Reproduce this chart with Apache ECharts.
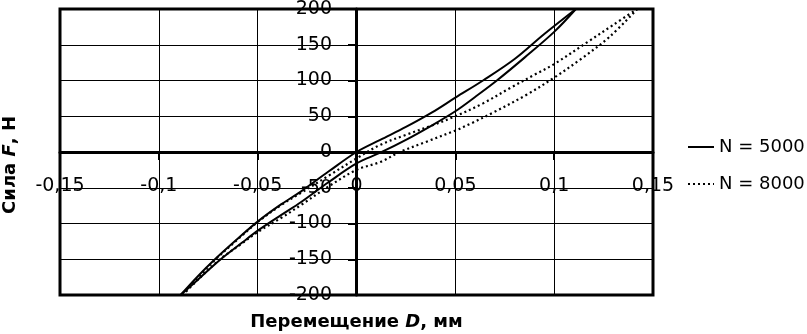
<!DOCTYPE html>
<html>
<head>
<meta charset="utf-8">
<script src="https://cdn.jsdelivr.net/npm/echarts@6/dist/echarts.min.js"></script>
<style>
html,body{margin:0;padding:0;background:#fff;}
#c{width:807px;height:334px;}
</style>
</head>
<body>
<div id="c"></div>
<script>
// N = 5000, upper branch
const n5000UpperD = [-0.089, -0.080, -0.072, -0.060, -0.0494, -0.038, -0.028, -0.014, 0, 0.012, 0.025, 0.038, 0.05, 0.064, 0.08, 0.095, 0.111];
const n5000UpperF = [-200, -173, -151, -121, -96, -73, -55, -27, 0, 17, 35, 55, 76, 100, 130, 165, 200];
// N = 5000, lower branch
const n5000LowerD = [-0.089, -0.080, -0.0687, -0.058, -0.0494, -0.038, -0.028, -0.014, 0, 0.012, 0.025, 0.038, 0.05, 0.06, 0.071, 0.085, 0.1, 0.111];
const n5000LowerF = [-200, -178, -150, -127, -109, -88, -70, -42, -16, -1, 17, 37, 57, 77, 100, 132, 168, 200];
// N = 8000, upper branch
const n8000UpperD = [-0.088, -0.080, -0.072, -0.060, -0.050, -0.038, -0.028, -0.014, 0, 0.012, 0.025, 0.038, 0.05, 0.064, 0.078, 0.09, 0.1, 0.117, 0.130, 0.142];
const n8000UpperF = [-200, -175, -152, -122, -98, -74, -57, -33, -9, 10, 24, 37, 50, 68, 90, 108, 123, 154, 178, 200];
// N = 8000, lower branch
const n8000LowerD = [-0.088, -0.080, -0.069, -0.058, -0.050, -0.038, -0.028, -0.014, 0, 0.012, 0.022, 0.035, 0.05, 0.058, 0.069, 0.086, 0.1, 0.113, 0.128, 0.142];
const n8000LowerF = [-200, -178, -150, -128, -112, -92, -74, -48, -25, -14, 0, 14, 30, 40, 55, 80, 104, 129, 161, 200];

const seriesNames = ['N = 5000', 'N = 8000'];
const xTitle = '{b|Перемещение }{i|D}{b|, мм}';
const yTitle = '{b|Сила }{i|F}{b|, Н}';

function pairs(xs, ys) { return xs.map((x, i) => [x, ys[i]]); }
function fmt(v) {
  const r = Math.round(v * 100) / 100;
  return String(r).replace('.', ',');
}

const chart = echarts.init(document.getElementById('c'), null, {renderer: 'canvas'});
const font = 'DejaVu Sans';
const richTitle = {
  b: {fontFamily: font, fontWeight: 'bold', fontSize: 18, color: '#000'},
  i: {fontFamily: font, fontWeight: 'bold', fontStyle: 'italic', fontSize: 18, color: '#000'}
};
const solid = {color: '#000', width: 2, type: 'solid'};
const dotted = {color: '#000', width: 2.2, type: [2, 3], cap: 'butt'};

function lineSeries(name, data, style) {
  return {
    name: name, type: 'line', data: data, smooth: 0.35, symbol: 'none',
    lineStyle: style, itemStyle: {color: '#000'}, animation: false, z: 5
  };
}

chart.setOption({
  animation: false,
  backgroundColor: '#fff',
  grid: {left: 60, right: 154, top: 9, bottom: 39, containLabel: false, outerBoundsMode: 'none',
         show: true, borderColor: '#000', borderWidth: 3, backgroundColor: 'transparent'},
  legend: {
    orient: 'vertical', left: 687, top: 136, padding: 0, itemWidth: 26, itemHeight: 14, itemGap: 15,
    data: seriesNames,
    textStyle: {fontFamily: font, fontSize: 18, color: '#000', lineHeight: 22},
    itemStyle: {opacity: 0}
  },
  xAxis: {
    type: 'value', min: -0.15, max: 0.15, interval: 0.05,
    position: 'bottom', offset: -143,
    axisLine: {onZero: false, lineStyle: {color: '#000', width: 3}},
    axisTick: {show: true, inside: false, length: 8, lineStyle: {color: '#000', width: 2}},
    axisLabel: {formatter: fmt, margin: 25, fontFamily: font, fontSize: 19, color: '#000', showMinLabel: true, showMaxLabel: true, hideOverlap: false},
    splitLine: {show: true, lineStyle: {color: '#000', width: 1}},
    name: xTitle, nameLocation: 'middle', nameGap: 161,
    nameTextStyle: {rich: richTitle}
  },
  yAxis: {
    type: 'value', min: -200, max: 200, interval: 50,
    position: 'left', offset: -296,
    axisLine: {onZero: false, lineStyle: {color: '#000', width: 3}},
    axisTick: {show: true, inside: false, length: 8, lineStyle: {color: '#000', width: 2}},
    axisLabel: {margin: 24, fontFamily: font, fontSize: 19, color: '#000', showMinLabel: true, showMaxLabel: true, hideOverlap: false},
    splitLine: {show: true, lineStyle: {color: '#000', width: 1}},
    name: yTitle, nameLocation: 'middle', nameGap: 337,
    nameTextStyle: {rich: richTitle, padding: [0, 26, 0, 0]}
  },
  series: [
    lineSeries(seriesNames[0], pairs(n5000UpperD, n5000UpperF), solid),
    lineSeries(seriesNames[0], pairs(n5000LowerD, n5000LowerF), solid),
    lineSeries(seriesNames[1], pairs(n8000UpperD, n8000UpperF), dotted),
    lineSeries(seriesNames[1], pairs(n8000LowerD, n8000LowerF), dotted)
  ]
});
</script>
</body>
</html>
